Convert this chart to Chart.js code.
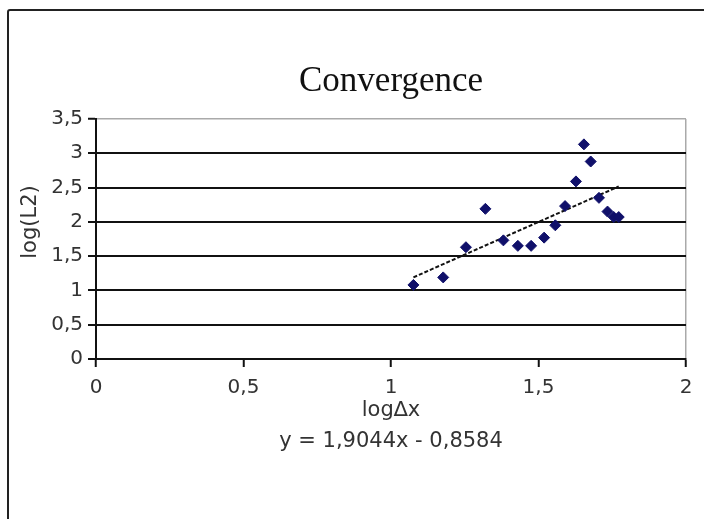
<!DOCTYPE html>
<html>
<head>
<meta charset="utf-8">
<script src="https://cdn.jsdelivr.net/npm/chart.js@4/dist/chart.umd.min.js"></script>
<style>
  html, body { margin: 0; padding: 0; background: #fff; overflow: hidden; }
  #wrap { position: relative; width: 704px; height: 519px; overflow: hidden; }
  #frame { position: absolute; left: 7px; top: 9px; width: 760px; height: 560px; border: 2px solid #222; border-radius: 3px; box-sizing: border-box; }
  #chart { position: absolute; left: 0; top: 0; }
</style>
</head>
<body>
<div id="wrap">
  <div id="frame"></div>
  <canvas id="chart" width="704" height="519"></canvas>
</div>
<script>
/* ---- data ---- */
const logDx = [1.076, 1.177, 1.254, 1.32, 1.381, 1.43, 1.475, 1.519, 1.557, 1.59, 1.627, 1.654, 1.677, 1.705, 1.734, 1.755, 1.772];
const logL2 = [1.08, 1.19, 1.63, 2.19, 1.73, 1.65, 1.65, 1.77, 1.95, 2.23, 2.59, 3.13, 2.88, 2.35, 2.15, 2.07, 2.07];
const xTickLabels = ['0', '0,5', '1', '1,5', '2'];
const yTickLabels = ['0', '0,5', '1', '1,5', '2', '2,5', '3', '3,5'];
const trendSlope = 1.9044;
const trendIntercept = -0.8584;
const equationText = 'y = 1,9044x - 0,8584';
const chartTitle = 'Convergence';
const xTitle = 'log\u2206x';
const yTitle = 'log(L2)';

const points = logDx.map((x, i) => ({ x, y: logL2[i] }));
const trendX = [Math.min(...logDx), Math.max(...logDx)];
const trendPoints = trendX.map((x) => ({ x, y: trendSlope * x + trendIntercept }));

const sans = "'DejaVu Sans', Roboto, Arial, sans-serif";

/* y axis title, drawn a bit above the plot centre like the original */
const yTitlePlugin = {
  id: 'yTitle',
  afterDraw(chart) {
    const { ctx } = chart;
    ctx.save();
    ctx.translate(31, 222);
    ctx.rotate(-Math.PI / 2);
    ctx.font = '21px ' + sans;
    ctx.fillStyle = '#333';
    ctx.textAlign = 'center';
    ctx.textBaseline = 'middle';
    ctx.fillText(yTitle, 0, 0);
    ctx.restore();
  },
};

new Chart(document.getElementById('chart'), {
  type: 'scatter',
  data: {
    datasets: [
      {
        data: points,
        pointStyle: 'rectRot',
        pointRadius: 5.5,
        backgroundColor: '#10106a',
        borderColor: '#10106a',
        borderWidth: 1,
      },
      {
        data: trendPoints,
        showLine: true,
        pointRadius: 0,
        borderColor: '#111',
        borderWidth: 2,
        borderDash: [4, 2],
      },
    ],
  },
  options: {
    responsive: false,
    animation: false,
    devicePixelRatio: 1,
    layout: { padding: { left: 0, right: 18, top: 0, bottom: 0 } },
    plugins: {
      legend: { display: false },
      tooltip: { enabled: false },
      title: {
        display: true,
        text: chartTitle,
        fullSize: false,
        color: '#111',
        font: { family: "'Liberation Serif', 'Times New Roman', serif", size: 35, weight: 'normal', lineHeight: 1.2 },
        padding: { top: 61, bottom: 16 },
      },
    },
    scales: {
      x: {
        type: 'linear',
        min: 0, max: 2,
        ticks: {
          stepSize: 0.5, padding: 9, maxRotation: 0, color: '#333',
          font: { family: sans, size: 20 },
          callback: (v, i) => xTickLabels[i],
        },
        grid: {
          color: (c) => (c.tick && c.tick.value === 2 ? '#aaa' : 'transparent'),
          lineWidth: 1.5,
          tickColor: '#111', tickLength: 8, tickWidth: 2,
        },
        border: { color: '#111', width: 2 },
        title: {
          display: true,
          text: [xTitle, equationText],
          color: '#333',
          font: { family: sans, size: 21, lineHeight: '31px' },
          padding: { top: 0, bottom: 62 },
        },
        afterFit: (s) => { s.height = 160; },
      },
      y: {
        min: 0, max: 3.5,
        ticks: {
          stepSize: 0.5, padding: 5, color: '#333',
          font: { family: sans, size: 20 },
          callback: (v, i) => yTickLabels[i],
        },
        grid: {
          color: (c) => (c.tick && c.tick.value === 3.5 ? '#aaa' : '#111'),
          lineWidth: (c) => (c.tick && c.tick.value === 3.5 ? 1.5 : 2),
          tickColor: '#111', tickLength: 8, tickWidth: 2,
        },
        border: { color: '#111', width: 2 },
        afterFit: (s) => { s.width = 96; },
      },
    },
  },
  plugins: [yTitlePlugin],
});
</script>
</body>
</html>
